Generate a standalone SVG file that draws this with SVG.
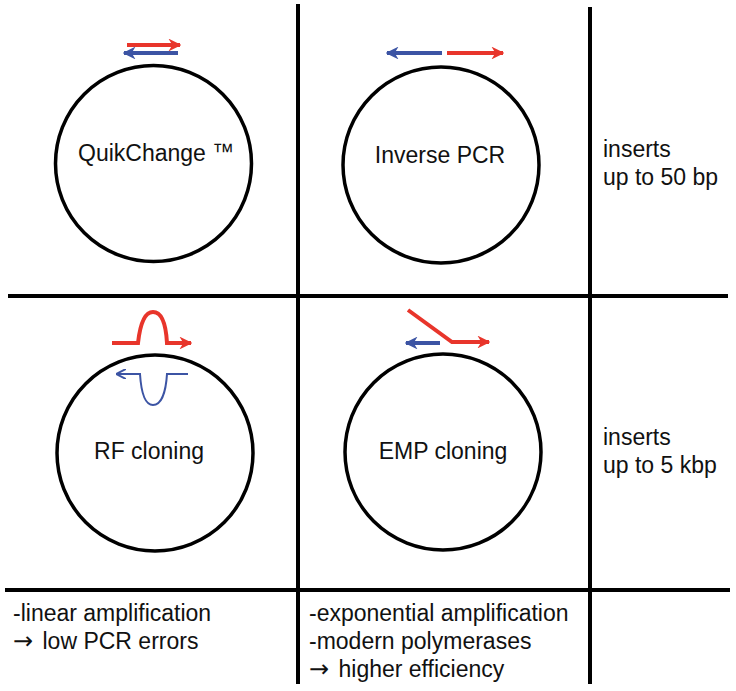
<svg xmlns="http://www.w3.org/2000/svg" width="736" height="691" viewBox="0 0 736 691">
<defs>
<marker id="hr" viewBox="0 0 10 10" refX="9" refY="5" markerWidth="3.2" markerHeight="3.2" orient="auto" markerUnits="strokeWidth"><path d="M0,0 L10,5 L0,10 L3,5 Z" fill="#e8352b"/></marker>
<marker id="hb" viewBox="0 0 10 10" refX="9" refY="5" markerWidth="3.2" markerHeight="3.2" orient="auto" markerUnits="strokeWidth"><path d="M0,0 L10,5 L0,10 L3,5 Z" fill="#3c54a4"/></marker>
<marker id="hbt" viewBox="0 0 10 10" refX="9" refY="5" markerWidth="5" markerHeight="5" orient="auto" markerUnits="strokeWidth"><path d="M0,0 L10,5 L0,10" fill="none" stroke="#3c54a4" stroke-width="2"/></marker>
</defs>
<style>
.grid{stroke:#000;stroke-width:4;fill:none}
.plasmid{stroke:#000;stroke-width:3.5;fill:none}
.red{stroke:#e8352b;stroke-width:4;fill:none}
.blue{stroke:#3c54a4;stroke-width:4;fill:none}
.bluethin{stroke:#3c54a4;stroke-width:2;fill:none}
text{font-family:"Liberation Sans",Arial,sans-serif;font-size:23px;fill:#111}
.mid{text-anchor:middle}
.arr{font-family:"DejaVu Sans",sans-serif;font-size:24px}
.tm{font-size:22px}
</style>
<rect width="736" height="691" fill="#fff"/>
<g id="grid">
<line class="grid" x1="298" y1="4" x2="298" y2="684"/>
<line class="grid" x1="590" y1="7" x2="590" y2="684"/>
<line class="grid" x1="8" y1="296" x2="728" y2="296"/>
<line class="grid" x1="5" y1="590" x2="730" y2="590"/>
</g>
<g id="quikchange">
<circle class="plasmid" cx="153.5" cy="163.5" r="98"/>
<text x="78" y="161">QuikChange <tspan class="tm" dy="-2">™</tspan></text>
</g>
<g id="inverse-pcr">
<circle class="plasmid" cx="441" cy="165" r="98"/>
<text class="mid" x="440" y="163">Inverse PCR</text>
</g>
<g id="rf-cloning">
<circle class="plasmid" cx="155" cy="453" r="98"/>
<text class="mid" x="149" y="459">RF cloning</text>
</g>
<g id="emp-cloning">
<circle class="plasmid" cx="443" cy="452" r="98"/>
<text class="mid" x="443" y="459">EMP cloning</text>
</g>
<g id="inserts-50">
<text x="603" y="157">inserts</text>
<text x="603" y="185">up to 50 bp</text>
</g>
<g id="inserts-5k">
<text x="603" y="445">inserts</text>
<text x="603" y="473">up to 5 kbp</text>
</g>
<g id="note-linear">
<text x="13" y="621">-linear amplification</text>
<text x="13" y="649"><tspan class="arr">→</tspan> <tspan dx="3">low PCR errors</tspan></text>
</g>
<g id="note-exponential">
<text x="309" y="621">-exponential amplification</text>
<text x="309" y="649">-modern polymerases</text>
<text x="309" y="677"><tspan class="arr">→</tspan> <tspan dx="3">higher efficiency</tspan></text>
</g>
<g id="connectors">
<line class="red" x1="127" y1="45" x2="180" y2="45" marker-end="url(#hr)"/>
<line class="blue" x1="178" y1="53" x2="124" y2="53" marker-end="url(#hb)"/>
<line class="blue" x1="442" y1="53" x2="387" y2="53" marker-end="url(#hb)"/>
<line class="red" x1="447" y1="53" x2="503" y2="53" marker-end="url(#hr)"/>
<path class="red" d="M112,343 L138,343 C140,325 144,312 153,312 C162,312 166,325 167,343 L191,343" marker-end="url(#hr)"/>
<path class="bluethin" d="M188,374 L167,374 C166,390 162,405 153,405 C144,405 141,390 140,374 L117,374" marker-end="url(#hbt)"/>
<path class="red" d="M408,310 L452,342 L489,342" marker-end="url(#hr)"/>
<line class="blue" x1="440" y1="343" x2="406" y2="343" marker-end="url(#hb)"/>
</g>
</svg>
